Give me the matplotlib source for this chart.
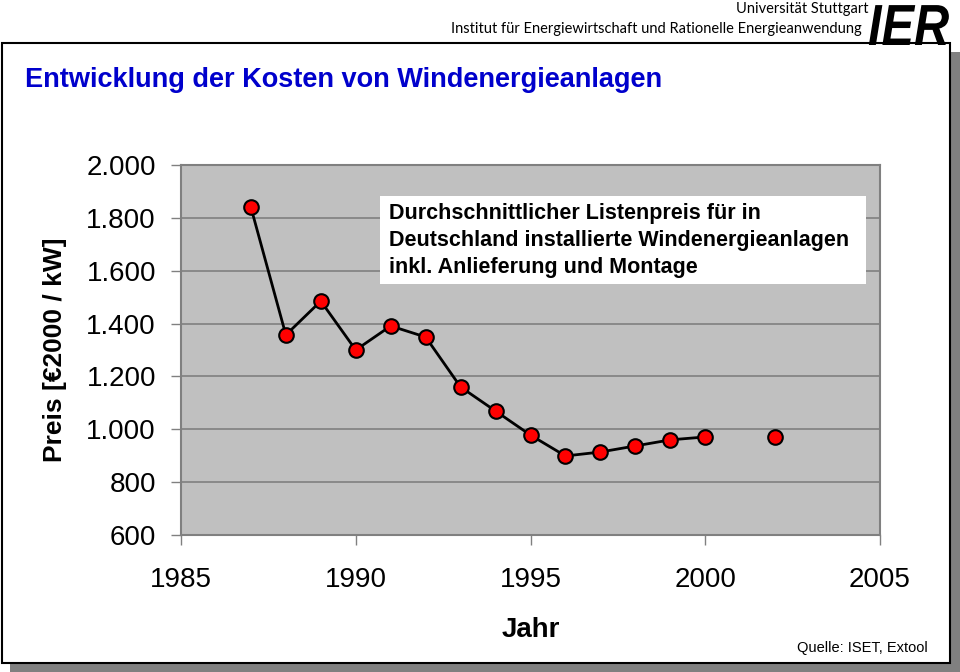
import numpy as np
import matplotlib
matplotlib.use('Agg')
import matplotlib.pyplot as plt
from matplotlib.patches import Rectangle, PathPatch
from matplotlib.textpath import TextPath
from matplotlib.font_manager import FontProperties
from matplotlib.transforms import Affine2D, IdentityTransform
from matplotlib.ticker import FuncFormatter

plt.rcParams['font.family'] = ['Liberation Sans', 'DejaVu Sans']

# Data (EUR2000 per kW)
years = [1987, 1988, 1989, 1990, 1991, 1992, 1993, 1994, 1995, 1996, 1997, 1998, 1999, 2000, 2001, 2002]
price = [1840, 1357, 1485, 1300, 1391, 1349, 1160, 1069, 978, 899, 914, 937, 960, 971, np.nan, 971]
y_ticks = [600, 800, 1000, 1200, 1400, 1600, 1800, 2000]
x_ticks = [1985, 1990, 1995, 2000, 2005]
note_lines = ['Durchschnittlicher Listenpreis für in',
              'Deutschland installierte Windenergieanlagen',
              'inkl. Anlieferung und Montage']

W, H = 960, 672
fig = plt.figure(figsize=(W / 100, H / 100), dpi=100, facecolor='white')


def fx(px):
    return px / W


def fy(py):
    return 1 - py / H


# frame with drop shadow
fig.patches.append(Rectangle((fx(10), fy(672)), fx(950), fy(52) - fy(672),
                             transform=fig.transFigure, facecolor='#808080',
                             edgecolor='none', zorder=0))
fig.patches.append(Rectangle((fx(2), fy(663)), fx(948), fy(43) - fy(663),
                             transform=fig.transFigure, facecolor='white',
                             edgecolor='black', linewidth=1.5, zorder=1))

# header
fig.text(fx(868), fy(9), 'Universität Stuttgart', ha='right', va='center',
         fontsize=10.5, family=['Lato', 'DejaVu Sans'])
fig.text(fx(862), fy(29), 'Institut für Energiewirtschaft und Rationelle Energieanwendung',
         ha='right', va='center', fontsize=10.5, family=['Lato', 'DejaVu Sans'])

# IER logo: condensed bold italic letters drawn as a path in pixel coordinates
logo = TextPath((0, 0), 'IER', size=58,
                prop=FontProperties(family='Liberation Sans', weight='bold', style='italic'))
logo = Affine2D().scale(0.84, 1.0).translate(868, H - 45).transform_path(logo)
fig.patches.append(PathPatch(logo, transform=IdentityTransform(), facecolor='black',
                             edgecolor='none', zorder=3))

fig.text(fx(25), fy(80), 'Entwicklung der Kosten von Windenergieanlagen',
         ha='left', va='center', fontsize=19.5, fontweight='bold', color='#0000CC')

ax = fig.add_axes([fx(181), fy(535), fx(880) - fx(181), fy(165) - fy(535)])
ax.set_facecolor('#C0C0C0')
ax.set_zorder(2)

ax.plot(years, price, color='black', linewidth=2, marker='o', markersize=10.5,
        markerfacecolor='#FF0000', markeredgecolor='black', markeredgewidth=1.5,
        zorder=3)

ax.set_xlim(1985, 2005)
ax.set_ylim(600, 2000)
ax.set_xticks(x_ticks)
ax.set_yticks(y_ticks)
ax.yaxis.set_major_formatter(FuncFormatter(lambda v, p: f'{int(v):,}'.replace(',', '.')))
ax.grid(axis='y', color='#808080', linewidth=1.2)
ax.set_axisbelow(True)
for s in ax.spines.values():
    s.set_color('#808080')
    s.set_linewidth(1.5)
ax.tick_params(axis='both', colors='#808080', labelcolor='black', labelsize=20,
               length=7, width=1)
ax.tick_params(axis='x', pad=16)
ax.tick_params(axis='y', pad=11)

ax.set_xlabel('Jahr', fontsize=20, fontweight='bold', labelpad=17)
ax.set_ylabel('Preis [€2000 / kW]', fontsize=19, fontweight='bold', labelpad=14)

# note box
fig.patches.append(Rectangle((fx(380), fy(284)), fx(866) - fx(380), fy(196) - fy(284),
                             transform=fig.transFigure, facecolor='white',
                             edgecolor='none', zorder=5))
for i, line in enumerate(note_lines):
    fig.text(fx(389), fy(214 + 26.5 * i), line, ha='left', va='center',
             fontsize=15.5, fontweight='bold', zorder=6)

fig.text(fx(928), fy(648), 'Quelle: ISET, Extool', ha='right', va='center', fontsize=10.5)

fig.savefig('out.png', dpi=100, facecolor='white')
